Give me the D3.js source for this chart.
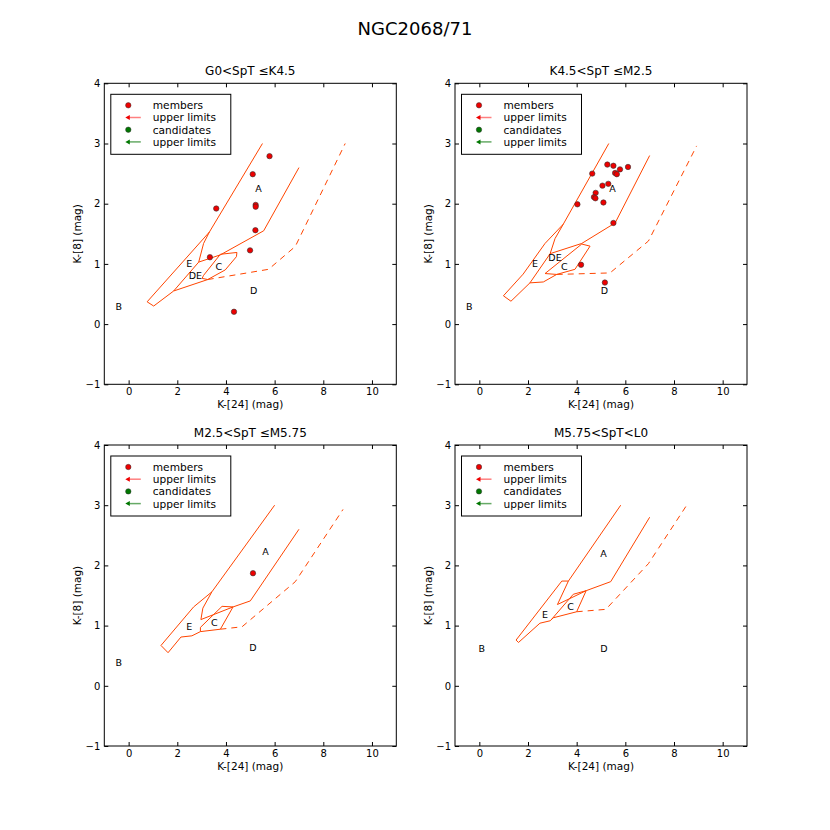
<!DOCTYPE html>
<html>
<head>
<meta charset="utf-8">
<script src="https://cdn.jsdelivr.net/npm/d3@7"></script>
<style>
  body { margin: 0; background: #fff; }
  text { font-family: "DejaVu Sans", sans-serif; }
</style>
</head>
<body>
<div id="chart"></div>
<script>
// Data setup
const figTitle = "NGC2068/71";
const panelTitles = ["G0<SpT \u2264K4.5", "K4.5<SpT \u2264M2.5", "M2.5<SpT \u2264M5.75", "M5.75<SpT<L0"];
const xTicks = [0, 2, 4, 6, 8, 10];
const yTicks = [-1, 0, 1, 2, 3, 4];
const legendLabels = ["members", "upper limits", "candidates", "upper limits"];

// panel 1: G0 < SpT <= K4.5
const g0Members = [[5.79, 2.79], [5.10, 2.49], [3.60, 1.92], [5.22, 1.98], [5.22, 1.95],
                   [5.21, 1.56], [4.99, 1.225], [3.34, 1.11], [4.33, 0.205]];
const g0LineA1 = [[5.5, 3.0], [3.32, 1.53], [3.08, 1.34], [2.88, 1.03]];
const g0LineA2 = [[7.0, 2.6], [5.55, 1.55], [3.77, 1.15], [2.88, 1.03]];
const g0BoxE = [[3.32, 1.53], [0.76, 0.37], [1.03, 0.30], [1.85, 0.55], [2.88, 1.03]];
const g0Lower = [[1.85, 0.55], [3.25, 0.74]];
const g0BoxC = [[3.77, 1.16], [4.45, 1.19], [4.43, 1.12], [3.97, 0.90], [3.25, 0.74],
                [3.02, 0.76], [3.08, 0.81], [3.77, 1.16]];
const g0Dash = [[3.25, 0.74], [5.75, 0.91], [6.85, 1.29], [8.9, 3.0]];
const g0Labels = [["A", 5.34, 2.26], ["B", -0.41, 0.30], ["C", 3.71, 0.95],
                  ["D", 5.14, 0.55], ["E", 2.49, 1.0], ["DE", 2.74, 0.80]];

// panel 2: K4.5 < SpT <= M2.5
const k4Members = [[5.26, 2.65], [5.51, 2.63], [5.78, 2.57], [6.11, 2.61], [5.58, 2.51],
                   [5.65, 2.49], [4.64, 2.50], [5.30, 2.33], [5.06, 2.30], [4.78, 2.18],
                   [4.71, 2.11], [4.77, 2.09], [5.10, 2.02], [4.03, 1.99], [5.51, 1.68],
                   [4.18, 0.985], [5.16, 0.69]];
const k4LineA1 = [[5.32, 3.0], [3.45, 1.66], [3.11, 1.42], [2.91, 1.17]];
const k4LineA2 = [[7.0, 2.8], [5.58, 1.68], [4.21, 1.34], [2.91, 1.17]];
const k4BoxE = [[3.45, 1.66], [2.70, 1.34], [1.8, 0.83], [0.99, 0.47], [1.30, 0.38],
                [2.08, 0.685], [2.91, 1.17]];
const k4Lower = [[2.08, 0.685], [2.63, 0.70], [3.18, 0.825]];
const k4BoxC = [[2.70, 0.84], [4.21, 1.33], [4.55, 1.295], [3.93, 0.91], [3.18, 0.825], [2.70, 0.84]];
const k4Dash = [[3.18, 0.825], [5.37, 0.85], [6.95, 1.38], [8.93, 2.96]];
const k4Labels = [["A", 5.47, 2.26], ["B", -0.41, 0.30], ["C", 3.49, 0.95],
                  ["D", 5.14, 0.55], ["E", 2.29, 1.01], ["DE", 3.11, 1.10]];

// panel 3: M2.5 < SpT <= M5.75
const m2Members = [[5.11, 1.87]];
const m2LineA1 = [[6.0, 3.0], [3.42, 1.56], [3.05, 1.29], [2.97, 1.10]];
const m2LineA2 = [[7.0, 2.6], [5.0, 1.41], [4.29, 1.31], [2.97, 1.10]];
const m2BoxE = [[3.42, 1.56], [2.67, 1.31], [1.33, 0.67], [1.62, 0.55], [2.15, 0.81],
                [2.60, 0.83], [2.95, 0.90]];
const m2BoxC = [[3.84, 1.32], [4.29, 1.31], [3.77, 0.94], [2.95, 0.90], [2.95, 0.97], [3.84, 1.32]];
const m2Dash = [[3.77, 0.94], [4.66, 0.98], [6.85, 1.73], [8.81, 2.93]];
const m2Labels = [["A", 5.62, 2.23], ["B", -0.41, 0.38], ["C", 3.52, 1.05],
                  ["D", 5.11, 0.63], ["E", 2.49, 0.99]];

// panel 4: M5.75 < SpT < L0
const m5Members = [];
const m5LineA1 = [[5.81, 3.0], [3.66, 1.74], [3.21, 1.35]];
const m5LineA2 = [[7.0, 2.8], [5.40, 1.73], [4.39, 1.58], [3.21, 1.35]];
const m5BoxE = [[3.66, 1.74], [3.39, 1.74], [1.51, 0.76], [1.61, 0.72], [2.49, 1.04],
                [2.91, 1.08], [3.04, 1.13]];
const m5BoxC = [[3.86, 1.52], [4.39, 1.58], [4.0, 1.23], [3.04, 1.13], [2.96, 1.10], [3.86, 1.52]];
const m5Dash = [[4.0, 1.23], [5.2, 1.27], [6.95, 2.03], [8.49, 2.98]];
const m5Labels = [["A", 5.10, 2.20], ["B", 0.10, 0.62], ["C", 3.75, 1.31],
                  ["D", 5.12, 0.62], ["E", 2.70, 1.19]];

const panels = [
    {members: g0Members, solid: [g0LineA1, g0LineA2, g0BoxE, g0Lower, g0BoxC], dash: g0Dash, labels: g0Labels},
    {members: k4Members, solid: [k4LineA1, k4LineA2, k4BoxE, k4Lower, k4BoxC], dash: k4Dash, labels: k4Labels},
    {members: m2Members, solid: [m2LineA1, m2LineA2, m2BoxE, m2BoxC], dash: m2Dash, labels: m2Labels},
    {members: m5Members, solid: [m5LineA1, m5LineA2, m5BoxE, m5BoxC], dash: m5Dash, labels: m5Labels}
];

// Layout
const W = 830, H = 830;
const colLeft = [104.3, 455];
const rowTop = [83.3, 445];
const pw = 292, ph = 301;
const curveColor = "#ff4500";

const svg = d3.select("#chart")
    .append("svg")
    .attr("width", W)
    .attr("height", H);

svg.append("text")
    .attr("x", 415)
    .attr("y", 35)
    .attr("text-anchor", "middle")
    .style("font-size", "18px")
    .text(figTitle);

const x = d3.scaleLinear().domain([-1, 11]).range([0, pw]);
const y = d3.scaleLinear().domain([-1, 4]).range([ph, 0]);
const line = d3.line().x(d => x(d[0])).y(d => y(d[1]));
const fmt = d3.format("d");

panels.forEach((p, i) => {
    const g = svg.append("g")
        .attr("transform", `translate(${colLeft[i % 2]},${rowTop[Math.floor(i / 2)]})`);

    // axes, ticks inside on all four sides
    const axB = d3.axisBottom(x).tickValues(xTicks).tickSize(-4).tickPadding(4).tickFormat(fmt);
    const axT = d3.axisTop(x).tickValues(xTicks).tickSize(-4).tickFormat("");
    const axL = d3.axisLeft(y).tickValues(yTicks).tickSize(-4).tickPadding(4).tickFormat(fmt);
    const axR = d3.axisRight(y).tickValues(yTicks).tickSize(-4).tickFormat("");

    g.append("g").attr("transform", `translate(0,${ph})`).call(axB);
    g.append("g").call(axT);
    g.append("g").call(axL);
    g.append("g").attr("transform", `translate(${pw},0)`).call(axR);
    g.selectAll(".domain").remove();
    g.selectAll(".tick text").style("font-size", "10px").attr("fill", "#000");
    g.selectAll(".tick line").attr("stroke", "#000");

    const plot = g.append("g");

    p.solid.forEach(s => {
        plot.append("path")
            .attr("d", line(s))
            .attr("fill", "none")
            .attr("stroke", curveColor)
            .attr("stroke-width", 1);
    });
    plot.append("path")
        .attr("d", line(p.dash))
        .attr("fill", "none")
        .attr("stroke", curveColor)
        .attr("stroke-width", 1)
        .attr("stroke-dasharray", "6,5");

    plot.selectAll(".region")
        .data(p.labels)
        .enter()
        .append("text")
        .attr("x", d => x(d[1]))
        .attr("y", d => y(d[2]))
        .attr("text-anchor", "middle")
        .attr("dominant-baseline", "central")
        .style("font-size", "9.5px")
        .text(d => d[0]);

    plot.selectAll(".member")
        .data(p.members)
        .enter()
        .append("circle")
        .attr("cx", d => x(d[0]))
        .attr("cy", d => y(d[1]))
        .attr("r", 2.7)
        .attr("fill", "#ee0000")
        .attr("stroke", "#333")
        .attr("stroke-width", 0.6);

    // frame
    g.append("rect")
        .attr("width", pw)
        .attr("height", ph)
        .attr("fill", "none")
        .attr("stroke", "#000")
        .attr("stroke-width", 1);

    // titles
    g.append("text")
        .attr("x", pw / 2)
        .attr("y", -8)
        .attr("text-anchor", "middle")
        .style("font-size", "12px")
        .text(panelTitles[i]);

    g.append("text")
        .attr("x", pw / 2)
        .attr("y", ph + 24)
        .attr("text-anchor", "middle")
        .style("font-size", "10.5px")
        .text("K-[24] (mag)");

    g.append("text")
        .attr("transform", `translate(-23,${ph / 2}) rotate(-90)`)
        .attr("text-anchor", "middle")
        .style("font-size", "10.5px")
        .text("K-[8] (mag)");

    // legend
    const lg = g.append("g").attr("transform", "translate(6.5,11)");
    lg.append("rect")
        .attr("width", 120)
        .attr("height", 60)
        .attr("fill", "#fff")
        .attr("stroke", "#000")
        .attr("stroke-width", 1);

    const colors = ["#ee0000", "#ee0000", "#007700", "#007700"];
    const lite = ["#ff8080", "#ff8080", "#66aa66", "#66aa66"];
    legendLabels.forEach((lab, k) => {
        const ry = 11 + k * 12.2;
        if (k % 2 === 0) {
            lg.append("circle")
                .attr("cx", 17.5).attr("cy", ry).attr("r", 2.7)
                .attr("fill", colors[k]).attr("stroke", "#333").attr("stroke-width", 0.5);
        } else {
            lg.append("line")
                .attr("x1", 17).attr("x2", 30).attr("y1", ry).attr("y2", ry)
                .attr("stroke", lite[k]).attr("stroke-width", 1.5);
            lg.append("path")
                .attr("d", `M14.5,${ry} L19,${ry - 2.5} L19,${ry + 2.5} Z`)
                .attr("fill", colors[k]);
        }
        lg.append("text")
            .attr("x", 42)
            .attr("y", ry)
            .attr("dominant-baseline", "central")
            .style("font-size", "10.6px")
            .text(lab);
    });
});
</script>
</body>
</html>
